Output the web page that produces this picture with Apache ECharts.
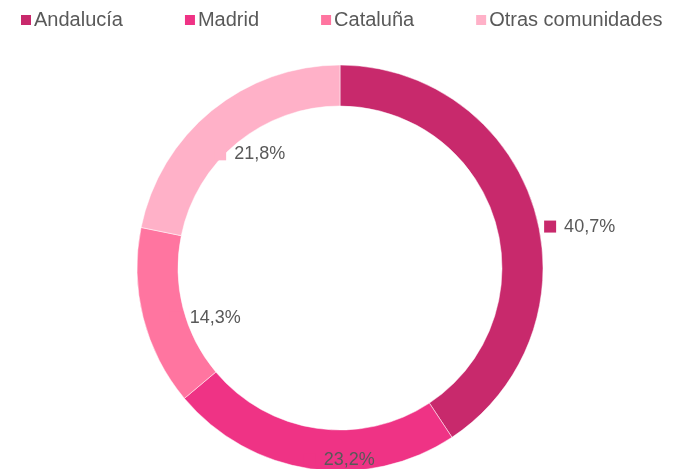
<!DOCTYPE html>
<html>
<head>
<meta charset="utf-8">
<script src="https://cdn.jsdelivr.net/npm/echarts@6/dist/echarts.min.js"></script>
<style>
  html, body { margin: 0; padding: 0; background: #fff; }
  #chart { width: 675px; height: 469px; }
</style>
</head>
<body>
<div id="chart"></div>
<script>
var regiones = ['Andalucía', 'Madrid', 'Cataluña', 'Otras comunidades'];
var porcentajes = [40.7, 23.2, 14.3, 21.8];
var colores = ['#C8296C', '#EF3385', '#FF75A0', '#FFB1C8'];
// label shift from the default inside point, per slice
var desplazamientos = [[62, 12], [26, 8], [45, 4], [27, 30]];

(function () {
  var myChart = echarts.init(document.getElementById('chart'));
  var font = "'Liberation Sans', Arial, sans-serif";

  var datos = regiones.map(function (nombre, i) {
    return {
      name: nombre,
      value: porcentajes[i],
      itemStyle: { color: colores[i] },
      label: {
        offset: desplazamientos[i],
        rich: {
          m: { width: 12, height: 12, backgroundColor: colores[i] }
        }
      }
    };
  });

  var option = {
    animation: false,
    color: colores,
    legend: {
      top: 5,
      left: 14,
      icon: 'rect',
      itemWidth: 12,
      itemHeight: 12,
      itemGap: 60,
      textStyle: { fontFamily: font, fontSize: 20, color: '#595959', padding: [0, 0, 0, -3] },
      data: regiones
    },
    series: [
      {
        type: 'pie',
        center: [340, 268],
        radius: [162, 203],
        startAngle: 90,
        clockwise: true,
        avoidLabelOverlap: false,
        itemStyle: { borderColor: '#fff', borderWidth: 0.5 },
        emphasis: { disabled: true },
        label: {
          show: true,
          position: 'inside',
          formatter: function (p) {
            return '{m|}{t|' + p.value.toFixed(1).replace('.', ',') + '%}';
          },
          rich: {
            t: { fontFamily: font, fontSize: 18, color: '#595959', padding: [0, 0, 0, 8] }
          }
        },
        labelLine: { show: false },
        data: datos
      }
    ]
  };

  myChart.setOption(option);
})();
</script>
</body>
</html>
